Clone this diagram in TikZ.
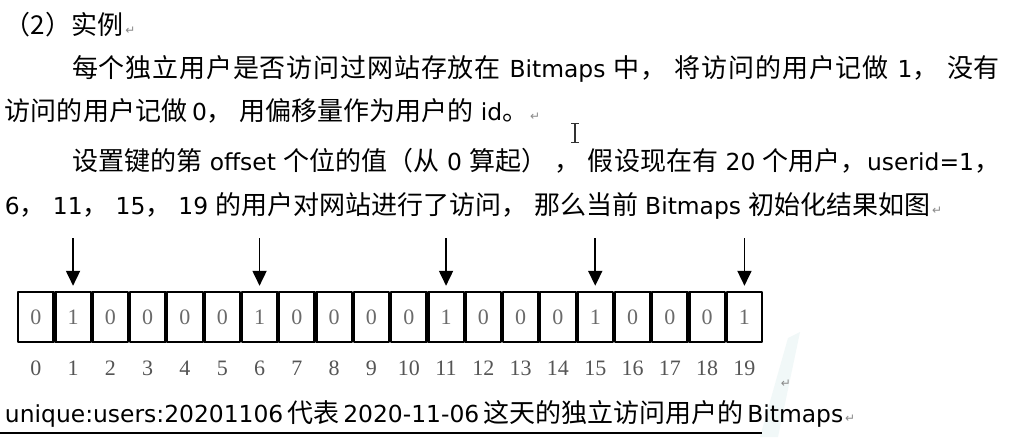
\documentclass[tikz,border=0pt]{standalone}
\usepackage{fontspec}
\usetikzlibrary{arrows.meta}
\setmainfont{Noto Sans CJK SC}
\newfontfamily\lt{DejaVu Sans}[Scale=0.9]
\newfontfamily\symf{DejaVu Sans}
\newfontfamily\tnr{Liberation Serif}
\definecolor{digitgray}{HTML}{6A6A6A}
\definecolor{idxgray}{HTML}{555555}
\definecolor{markgray}{HTML}{8A8A8A}
\definecolor{wmark}{HTML}{F1F8F8}
\newcommand\cj[1]{\cjloop#1\relax}
\def\cjloop#1{\ifx\relax#1\else#1\hskip0pt plus 1fil\relax\expandafter\cjloop\fi}
\newcommand\gap{\hskip 7pt plus 1fil\relax}
\newcommand\parmark{\hskip2pt{\symf\fontsize{12}{12}\selectfont\color{markgray}↵}}
\tikzset{
  txt/.style={anchor=base west, inner sep=0pt, outer sep=0pt, font=\fontsize{26}{30}\selectfont},
  cell/.style={draw=black, line width=2.4pt, line join=round, minimum width=35.5pt, minimum height=50pt, inner sep=0pt, font=\tnr\fontsize{22}{24}\selectfont, text=digitgray},
  idx/.style={inner sep=0pt, font=\tnr\fontsize{22}{24}\selectfont, text=idxgray},
  arr/.style={line width=1.8pt, -{Triangle[width=14pt,length=15pt]}, shorten >=5pt},
  pmark/.style={inner sep=0pt, font=\symf\fontsize{12}{12}\selectfont, text=markgray}
}
\begin{document}
\begin{tikzpicture}[x=1pt,y=-1pt]
\fill[white] (0,0) rectangle (1016,437);
\useasboundingbox (0,0) rectangle (1016,437);
% faint watermark
\fill[wmark] (788,338) -- (800,332) -- (778,437) -- (760,437) -- cycle;
% text lines
\node[txt] (l1) at (5,34) {（2）实例\parmark};
\node[txt] (l2) at (72,77) {\hbox to 928pt{\cj{每个独立用户是否访问过网站存放在}\gap{\lt Bitmaps}\gap\cj{中，}\gap\cj{将访问的用户记做}\gap{\lt 1}\cj{，}\gap\cj{没}有}};
\node[txt] (l3) at (5,120) {访问的用户记做\hskip5pt{\lt 0}，\hskip7pt 用偏移量作为用户的\hskip7pt{\lt id}。\parmark};
% cursor
\draw[line width=1.1pt, black!80] (575,124) -- (575,142) (571,123.5) -- (579,123.5) (571,142.5) -- (579,142.5);
\node[txt] (l4) at (72,170) {\hbox to 928pt{\cj{设置键的第}\gap{\lt offset}\gap\cj{个位的值（从}\gap{\lt 0}\gap\cj{算起）}\gap\cj{，}\gap\cj{假设现在有}\gap{\lt 20}\gap\cj{个用户，}{\lt userid=1}，}};
\node[txt] (l5) at (5,214) {{\lt 6}，\hskip7pt{\lt 11}，\hskip7pt{\lt 15}，\hskip7pt{\lt 19}\hskip7pt 的用户对网站进行了访问，\hskip7pt 那么当前\hskip7pt{\lt Bitmaps}\hskip7pt 初始化结果如图\parmark};
% bitmap cells
\foreach \i/\v in {0/0,1/1,2/0,3/0,4/0,5/0,6/1,7/0,8/0,9/0,10/0,11/1,12/0,13/0,14/0,15/1,16/0,17/0,18/0,19/1}{
  \node[cell] (c\i) at ({35.75+37.3*\i},317) {\v};
  \node[idx] (i\i) at ({35.75+37.3*\i},368) {\i};
}
\foreach \i in {1,6,11,15,19}{
  \coordinate (a\i) at ({35.75+37.3*\i},238);
  \draw[arr] (a\i) -- (c\i.north);
}
\node[pmark] (m4) at (786,384) {↵};
% bottom line
\node[txt] (l6) at (5,422) {{\lt unique:users:20201106}\hskip4pt 代表\hskip4pt{\lt 2020-11-06}\hskip4pt 这天的独立访问用户的\hskip4pt{\lt Bitmaps}\parmark};
\coordinate (u0) at (0,433);
\coordinate (u1) at (762,433);
\draw[line width=2.5pt] (u0) -- (u1);
\end{tikzpicture}
\end{document}
